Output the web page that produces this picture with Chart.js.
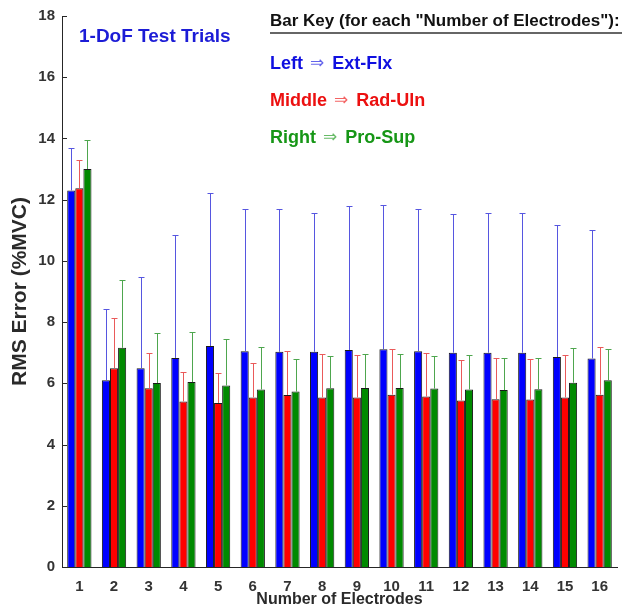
<!DOCTYPE html>
<html>
<head>
<meta charset="utf-8">
<script src="https://cdn.jsdelivr.net/npm/chart.js@4.4.1/dist/chart.umd.min.js"></script>
<style>
  html, body { margin: 0; padding: 0; background: #fff; }
  #wrap { width: 624px; height: 615px; }
</style>
</head>
<body>
<div id="wrap"><canvas id="rmsChart" width="624" height="615"></canvas></div>
<script>
// categories: number of electrodes
const electrodes = ['1', '2', '3', '4', '5', '6', '7', '8', '9', '10', '11', '12', '13', '14', '15', '16'];

// mean RMS error (%MVC) per DoF
const extFlx = [12.30, 6.10, 6.49, 6.83, 7.22, 7.05, 7.03, 7.03, 7.09, 7.11, 7.05, 7.00, 7.00, 7.00, 6.86, 6.81];
const radUln = [12.37, 6.49, 5.84, 5.41, 5.36, 5.54, 5.62, 5.54, 5.54, 5.63, 5.57, 5.44, 5.48, 5.47, 5.54, 5.63];
const proSup = [13.00, 7.16, 6.01, 6.04, 5.93, 5.80, 5.73, 5.84, 5.85, 5.85, 5.83, 5.80, 5.78, 5.81, 6.02, 6.10];

// upper end of the error bars
const extFlxUpper = [13.68, 8.44, 9.49, 10.84, 12.22, 11.68, 11.68, 11.57, 11.79, 11.84, 11.68, 11.53, 11.55, 11.55, 11.17, 11.02];
const radUlnUpper = [13.30, 8.13, 7.00, 6.37, 6.35, 6.66, 7.05, 6.96, 6.94, 7.13, 7.00, 6.75, 6.83, 6.81, 6.92, 7.20];
const proSupUpper = [13.94, 9.36, 7.63, 7.68, 7.46, 7.19, 6.80, 6.88, 6.96, 6.95, 6.89, 6.92, 6.82, 6.83, 7.15, 7.11];

const yTicks = [0, 2, 4, 6, 8, 10, 12, 14, 16, 18];

const errColors = ['#5656e0', '#ea5a5a', '#4ea64e'];
const axisColor = '#262626';

// one-sided error bars, drawn from the bar top up to the upper value
const errorBars = {
  id: 'errorBars',
  afterDatasetsDraw(chart) {
    const ctx = chart.ctx;
    const yScale = chart.scales.y;
    const uppers = [extFlxUpper, radUlnUpper, proSupUpper];
    ctx.save();
    ctx.lineWidth = 1;
    uppers.forEach((upper, i) => {
      const meta = chart.getDatasetMeta(i);
      ctx.strokeStyle = errColors[i];
      meta.data.forEach((bar, j) => {
        const x = Math.round(bar.x) + 0.5;
        const yTop = Math.round(yScale.getPixelForValue(upper[j])) + 0.5;
        ctx.beginPath();
        ctx.moveTo(x, bar.y);
        ctx.lineTo(x, yTop);
        ctx.moveTo(x - 3, yTop);
        ctx.lineTo(x + 3, yTop);
        ctx.stroke();
      });
    });
    ctx.restore();
  }
};

// inward tick marks on the y axis
const innerTicks = {
  id: 'innerTicks',
  afterDraw(chart) {
    const ctx = chart.ctx;
    const y = chart.scales.y;
    ctx.save();
    ctx.strokeStyle = axisColor;
    ctx.lineWidth = 1;
    yTicks.forEach(v => {
      const py = Math.round(y.getPixelForValue(v)) + 0.5;
      ctx.beginPath();
      ctx.moveTo(y.right, py);
      ctx.lineTo(y.right + 5, py);
      ctx.stroke();
    });
    ctx.restore();
  }
};

// text annotations inside the plot
const annotations = {
  id: 'annotations',
  afterDraw(chart) {
    const ctx = chart.ctx;
    ctx.save();
    ctx.textAlign = 'left';
    ctx.textBaseline = 'alphabetic';

    ctx.fillStyle = '#1c1cd6';
    ctx.font = 'bold 19px "Liberation Sans", Arial, sans-serif';
    ctx.fillText('1-DoF Test Trials', 79, 42);

    ctx.fillStyle = '#111';
    ctx.font = 'bold 17px "Liberation Sans", Arial, sans-serif';
    ctx.fillText('Bar Key (for each "Number of Electrodes"):', 270, 26);
    ctx.strokeStyle = '#333';
    ctx.lineWidth = 1.5;
    ctx.beginPath();
    ctx.moveTo(270, 33);
    ctx.lineTo(622, 33);
    ctx.stroke();

    const rows = [
      ['Left', 'Ext-Flx', '#1010e0', 69],
      ['Middle', 'Rad-Uln', '#ec1010', 106],
      ['Right', 'Pro-Sup', '#169616', 143]
    ];
    rows.forEach(([a, b, color, base]) => {
      let x = 270;
      ctx.fillStyle = color;
      ctx.font = 'bold 18px "Liberation Sans", Arial, sans-serif';
      ctx.fillText(a, x, base);
      x += ctx.measureText(a).width + 7;
      ctx.globalAlpha = 0.65;
      ctx.font = '17px "DejaVu Sans", sans-serif';
      ctx.fillText('\u21D2', x, base - 1);
      x += ctx.measureText('\u21D2').width + 8;
      ctx.globalAlpha = 1;
      ctx.font = 'bold 18px "Liberation Sans", Arial, sans-serif';
      ctx.fillText(b, x, base);
    });
    ctx.restore();
  }
};

new Chart(document.getElementById('rmsChart'), {
  type: 'bar',
  data: {
    labels: electrodes,
    datasets: [
      { label: 'Ext-Flx', data: extFlx, backgroundColor: '#0000ff', borderColor: '#1a1a1a', borderWidth: 1 },
      { label: 'Rad-Uln', data: radUln, backgroundColor: '#ff0000', borderColor: '#1a1a1a', borderWidth: 1 },
      { label: 'Pro-Sup', data: proSup, backgroundColor: '#008a00', borderColor: '#1a1a1a', borderWidth: 1 }
    ]
  },
  options: {
    responsive: false,
    animation: false,
    datasets: { bar: { categoryPercentage: 0.7, barPercentage: 1.0 } },
    layout: { padding: { left: 0, right: 7, top: 13, bottom: 0 } },
    plugins: {
      legend: { display: false },
      tooltip: { enabled: false }
    },
    scales: {
      x: {
        grid: { display: false, drawTicks: false },
        border: { display: true, color: axisColor, width: 1 },
        ticks: {
          color: '#333',
          padding: 11,
          font: { family: '"Liberation Sans", Arial, sans-serif', size: 15, weight: 'bold' }
        },
        title: {
          display: true,
          text: 'Number of Electrodes',
          color: '#2a2a2a',
          padding: { top: 0, bottom: 6 },
          font: { family: '"Liberation Sans", Arial, sans-serif', size: 16, weight: 'bold' }
        },
        afterFit(scale) { scale.height = 48; }
      },
      y: {
        min: 0,
        max: 18,
        afterBuildTicks(scale) { scale.ticks = yTicks.map(v => ({ value: v })); },
        grid: { display: false, drawTicks: false },
        border: { display: true, color: axisColor, width: 1 },
        ticks: {
          color: '#333',
          padding: 7,
          font: { family: '"Liberation Sans", Arial, sans-serif', size: 15, weight: 'bold' }
        },
        title: {
          display: true,
          text: 'RMS Error (%MVC)',
          color: '#2a2a2a',
          padding: { top: 8, bottom: 0 },
          font: { family: '"Liberation Sans", Arial, sans-serif', size: 21, weight: 'bold' }
        },
        afterFit(scale) { scale.width = 62; }
      }
    }
  },
  plugins: [errorBars, innerTicks, annotations]
});
</script>
</body>
</html>
